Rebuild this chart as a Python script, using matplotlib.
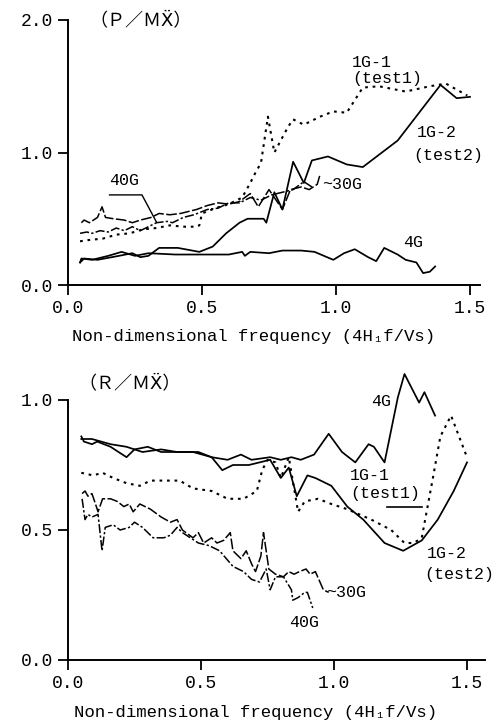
import matplotlib
matplotlib.use("Agg")
from matplotlib import pyplot as plt

MONO = ["Liberation Mono", "DejaVu Sans Mono"]
JP = ["Noto Sans CJK JP", "DejaVu Sans"]
plt.rcParams["font.family"] = MONO

# ---- upper panel: P / M Xdd ----
p_4g_f = [0.045, 0.05, 0.09, 0.15, 0.20, 0.25, 0.30, 0.40, 0.50, 0.60, 0.65, 0.66,
          0.68, 0.75, 0.80, 0.87, 0.92, 0.99, 1.03, 1.07, 1.12, 1.15, 1.18, 1.23,
          1.26, 1.30, 1.325, 1.35, 1.37]
p_4g_v = [0.17, 0.20, 0.19, 0.22, 0.25, 0.22, 0.24, 0.23, 0.23, 0.23, 0.25, 0.22,
          0.25, 0.24, 0.26, 0.26, 0.25, 0.19, 0.24, 0.27, 0.21, 0.18, 0.28, 0.23,
          0.19, 0.17, 0.09, 0.10, 0.14]

p_1g2_f = [0.045, 0.06, 0.11, 0.19, 0.24, 0.27, 0.30, 0.34, 0.41, 0.49, 0.54, 0.59,
           0.64, 0.67, 0.73, 0.74, 0.77, 0.80, 0.84, 0.88, 0.91, 0.97, 1.04, 1.10,
           1.23, 1.39, 1.45, 1.50]
p_1g2_v = [0.17, 0.20, 0.19, 0.22, 0.24, 0.21, 0.22, 0.28, 0.28, 0.25, 0.29, 0.39,
           0.47, 0.50, 0.50, 0.47, 0.70, 0.57, 0.93, 0.77, 0.94, 0.97, 0.91, 0.89,
           1.09, 1.51, 1.41, 1.42]

p_1g1_f = [0.045, 0.08, 0.13, 0.18, 0.23, 0.28, 0.33, 0.38, 0.43, 0.48, 0.49, 0.50,
           0.55, 0.60, 0.65, 0.68, 0.70, 0.72, 0.746, 0.77, 0.82, 0.84, 0.88, 0.94,
           0.99, 1.04, 1.10, 1.16, 1.26, 1.35, 1.41, 1.49]
p_1g1_v = [0.33, 0.34, 0.35, 0.38, 0.39, 0.42, 0.43, 0.45, 0.44, 0.44, 0.45, 0.54,
           0.58, 0.61, 0.66, 0.77, 0.85, 0.92, 1.27, 1.00, 1.19, 1.25, 1.21, 1.27,
           1.31, 1.30, 1.49, 1.50, 1.46, 1.50, 1.52, 1.43]

p_30g_f = [0.05, 0.06, 0.08, 0.11, 0.127, 0.14, 0.17, 0.21, 0.24, 0.27, 0.31, 0.34,
           0.38, 0.42, 0.44, 0.48, 0.52, 0.56, 0.60, 0.64, 0.68, 0.71, 0.75, 0.80,
           0.83, 0.87, 0.90, 0.93, 0.94]
p_30g_v = [0.47, 0.49, 0.47, 0.51, 0.59, 0.51, 0.50, 0.49, 0.47, 0.49, 0.51, 0.54,
           0.53, 0.54, 0.55, 0.57, 0.60, 0.62, 0.61, 0.63, 0.69, 0.59, 0.72, 0.57,
           0.72, 0.74, 0.72, 0.76, 0.83]

p_40g_f = [0.045, 0.07, 0.09, 0.12, 0.15, 0.18, 0.21, 0.24, 0.27, 0.29, 0.33, 0.37,
           0.39, 0.43, 0.47, 0.52, 0.56, 0.60, 0.64, 0.68, 0.72, 0.76, 0.80, 0.84,
           0.88, 0.91]
p_40g_v = [0.39, 0.40, 0.39, 0.41, 0.40, 0.43, 0.41, 0.44, 0.41, 0.43, 0.47, 0.48,
           0.47, 0.51, 0.53, 0.57, 0.58, 0.62, 0.62, 0.66, 0.64, 0.68, 0.70, 0.72,
           0.78, 0.74]

# ---- lower panel: R / M Xdd ----
r_4g_f = [0.05, 0.09, 0.16, 0.22, 0.28, 0.35, 0.41, 0.47, 0.54, 0.60, 0.65, 0.69,
          0.76, 0.80, 0.84, 0.875, 0.925, 0.98, 1.03, 1.08, 1.13, 1.15, 1.19, 1.22,
          1.24, 1.265, 1.32, 1.34, 1.38]
r_4g_v = [0.85, 0.85, 0.83, 0.82, 0.80, 0.81, 0.80, 0.80, 0.78, 0.77, 0.79, 0.77,
          0.78, 0.77, 0.78, 0.77, 0.79, 0.87, 0.80, 0.76, 0.83, 0.82, 0.76, 0.91,
          1.01, 1.10, 0.99, 1.03, 0.94]

r_1g2_f = [0.05, 0.06, 0.09, 0.11, 0.16, 0.22, 0.25, 0.30, 0.35, 0.42, 0.49, 0.54,
           0.58, 0.62, 0.68, 0.72, 0.76, 0.80, 0.83, 0.86, 0.90, 0.93, 0.99, 1.05,
           1.11, 1.19, 1.26, 1.33, 1.39, 1.45, 1.50]
r_1g2_v = [0.86, 0.84, 0.83, 0.84, 0.82, 0.78, 0.81, 0.82, 0.80, 0.80, 0.80, 0.78,
           0.73, 0.75, 0.75, 0.76, 0.77, 0.70, 0.74, 0.63, 0.71, 0.70, 0.67, 0.59,
           0.54, 0.45, 0.42, 0.46, 0.54, 0.65, 0.76]

r_1g1_f = [0.05, 0.094, 0.13, 0.17, 0.22, 0.27, 0.31, 0.37, 0.42, 0.47, 0.54, 0.60,
           0.66, 0.71, 0.73, 0.75, 0.78, 0.80, 0.83, 0.865, 0.89, 0.94, 0.99, 1.05,
           1.14, 1.215, 1.265, 1.30, 1.33, 1.37, 1.40, 1.44, 1.50]
r_1g1_v = [0.72, 0.71, 0.72, 0.70, 0.68, 0.67, 0.69, 0.69, 0.69, 0.66, 0.65, 0.62,
           0.62, 0.65, 0.73, 0.77, 0.76, 0.70, 0.78, 0.57, 0.61, 0.62, 0.60, 0.58,
           0.54, 0.50, 0.45, 0.45, 0.47, 0.69, 0.86, 0.94, 0.78]

r_30g_f = [0.053, 0.064, 0.075, 0.09, 0.10, 0.113, 0.13, 0.16, 0.185, 0.21, 0.23,
           0.245, 0.27, 0.31, 0.35, 0.385, 0.41, 0.43, 0.47, 0.49, 0.51, 0.54, 0.56,
           0.585, 0.61, 0.62, 0.65, 0.67, 0.69, 0.705, 0.725, 0.735, 0.755, 0.78,
           0.81, 0.83, 0.85, 0.87, 0.895, 0.91, 0.93, 0.96, 0.98]
r_30g_v = [0.64, 0.65, 0.63, 0.64, 0.61, 0.57, 0.62, 0.62, 0.61, 0.59, 0.60, 0.57,
           0.60, 0.58, 0.55, 0.53, 0.54, 0.50, 0.47, 0.49, 0.45, 0.47, 0.45, 0.46,
           0.49, 0.42, 0.39, 0.42, 0.37, 0.34, 0.40, 0.49, 0.35, 0.33, 0.32, 0.34,
           0.33, 0.34, 0.35, 0.33, 0.34, 0.27, 0.26]

r_40g_f = [0.053, 0.064, 0.075, 0.09, 0.113, 0.128, 0.14, 0.17, 0.196, 0.23, 0.25,
           0.28, 0.32, 0.36, 0.385, 0.41, 0.43, 0.46, 0.49, 0.53, 0.57, 0.62, 0.66,
           0.69, 0.72, 0.745, 0.76, 0.78, 0.81, 0.84, 0.845, 0.865, 0.89, 0.90, 0.92]
r_40g_v = [0.62, 0.54, 0.56, 0.55, 0.56, 0.42, 0.51, 0.52, 0.50, 0.51, 0.53, 0.51,
           0.47, 0.47, 0.48, 0.51, 0.49, 0.47, 0.45, 0.44, 0.42, 0.36, 0.34, 0.31,
           0.30, 0.35, 0.27, 0.32, 0.32, 0.27, 0.23, 0.24, 0.26, 0.26, 0.20]

SOLID = dict(color="black", lw=1.25, ls="-", clip_on=False)
DOTTED = dict(color="black", lw=1.5, ls=(0, (1.3, 2.3)), clip_on=False)
DASH30 = dict(color="black", lw=1.1, ls=(0, (7, 1.6)), clip_on=False)
DASH40 = dict(color="black", lw=1.1, ls=(0, (6, 1.5, 1.5, 1.5)), clip_on=False)
LABEL = dict(fontsize=12, va="center")


def style_axes(ax, ymax, yticks, xmax, label_y):
    ax.set_xlim(0, xmax)
    ax.set_ylim(0, ymax)
    for side in ("top", "right"):
        ax.spines[side].set_visible(False)
    for side in ("left", "bottom"):
        ax.spines[side].set_linewidth(1.4)
    ax.set_xticks([0.0, 0.5, 1.0, 1.5])
    ax.set_xticklabels(["0.0", "0.5", "1.0", "1.5"])
    ax.set_yticks(yticks)
    ax.set_yticklabels([f"{t:.1f}" for t in yticks])
    ax.tick_params(direction="out", length=7, width=1.3, labelsize=13, pad=4)
    ax.tick_params(axis="x", pad=4)
    ax.set_xlabel("Non-dimensional frequency (4H\u2081f/Vs)", fontsize=12.5,
                  family=MONO)
    ax.xaxis.set_label_coords(0.45, label_y, transform=ax.transAxes)


fig = plt.figure(figsize=(5.02, 7.25), dpi=100)

# upper panel
ax1 = fig.add_axes([68 / 502, 1 - 285 / 725, 412 / 502, 265 / 725])
ax1.plot(p_4g_f, p_4g_v, **SOLID)
ax1.plot(p_1g2_f, p_1g2_v, **SOLID)
ax1.plot(p_1g1_f, p_1g1_v, **DOTTED)
ax1.plot(p_30g_f, p_30g_v, **DASH30)
ax1.plot(p_40g_f, p_40g_v, **DASH40)
style_axes(ax1, 2.0, [0.0, 1.0, 2.0], 412 / 268, -0.165)

ax1.text(0.08, 2.0, "（Ｐ／ＭẌ）", family=JP, fontsize=13, va="center")
ax1.text(1.06, 1.68, "1G-1", **LABEL)
ax1.text(1.06, 1.56, "(test1)", **LABEL)
ax1.text(1.30, 1.15, "1G-2", **LABEL)
ax1.text(1.29, 0.98, "(test2)", **LABEL)
ax1.text(0.95, 0.76, "~30G", **LABEL)
ax1.text(0.155, 0.79, "40G", **LABEL)
ax1.plot([0.155, 0.276, 0.33], [0.68, 0.68, 0.475], color="black", lw=1.0)
ax1.text(1.25, 0.32, "4G", **LABEL)

# lower panel
ax2 = fig.add_axes([68 / 502, 1 - 660 / 725, 417 / 502, 260 / 725])
ax2.plot(r_4g_f, r_4g_v, **SOLID)
ax2.plot(r_1g2_f, r_1g2_v, **SOLID)
ax2.plot(r_1g1_f, r_1g1_v, **DOTTED)
ax2.plot(r_30g_f, r_30g_v, **DASH30)
ax2.plot(r_40g_f, r_40g_v, **DASH40)
style_axes(ax2, 1.0, [0.0, 0.5, 1.0], 417 / 266, -0.175)

ax2.text(0.04, 1.065, "（Ｒ／ＭẌ）", family=JP, fontsize=13, va="center")
ax2.text(1.14, 0.995, "4G", **LABEL)
ax2.text(1.06, 0.71, "1G-1", **LABEL)
ax2.text(1.06, 0.64, "(test1)", **LABEL)
ax2.plot([1.20, 1.33], [0.59, 0.59], color="black", lw=1.2)
ax2.text(1.35, 0.41, "1G-2", **LABEL)
ax2.text(1.34, 0.33, "(test2)", **LABEL)
ax2.text(0.97, 0.26, "~30G", **LABEL)
ax2.text(0.83, 0.145, "40G", **LABEL)

fig.savefig("out.png", dpi=100)
